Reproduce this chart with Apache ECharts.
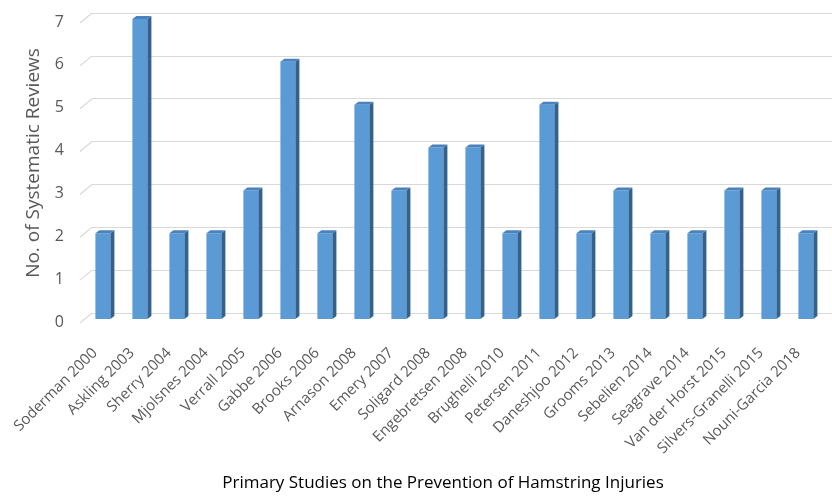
<!DOCTYPE html>
<html>
<head>
<meta charset="utf-8">
<script src="https://cdn.jsdelivr.net/npm/echarts@6/dist/echarts.min.js"></script>
<style>
  html, body { margin: 0; padding: 0; background: #fff; }
  #chart { width: 832px; height: 496px; }
</style>
</head>
<body>
<div id="chart"></div>
<script>
const studies = ['Soderman 2000', 'Askling 2003', 'Sherry 2004', 'Mjolsnes 2004', 'Verrall 2005',
  'Gabbe 2006', 'Brooks 2006', 'Arnason 2008', 'Emery 2007', 'Soligard 2008', 'Engebretsen 2008',
  'Brughelli 2010', 'Petersen 2011', 'Daneshjoo 2012', 'Grooms 2013', 'Sebelien 2014',
  'Seagrave 2014', 'Van der Horst 2015', 'Silvers-Granelli 2015', 'Nouni-Garcia 2018']
const reviews = [2, 7, 2, 2, 3, 6, 2, 5, 3, 4, 4, 2, 5, 2, 3, 2, 2, 3, 3, 2]
const yTicks = [0, 1, 2, 3, 4, 5, 6, 7]

const FONT = '"Open Sans", sans-serif'
const front = '#5b9bd5' // 正面
const side = '#33628f'  // 侧面
const topFace = '#4a82bd' // 顶面

const chart = echarts.init(document.getElementById('chart'))

// 3D 柱子：正面 + 侧面 + 顶面
function renderBar(params, api) {
  const i = api.value(0)
  const v = api.value(1)
  const top = api.coord([i, v])
  const base = api.coord([i, 0])
  const fx = top[0] - 7.6
  const fy = 6
  const w = 15
  const dx = 4
  const dy = -3
  const x0 = fx - w / 2
  const x1 = fx + w / 2
  const yt = top[1] + fy
  const yb = base[1] + fy
  return {
    type: 'group',
    children: [
      { type: 'rect', shape: { x: x0, y: yt, width: w, height: yb - yt }, style: { fill: front } },
      { type: 'polygon', shape: { points: [[x1, yt], [x1 + dx, yt + dy], [x1 + dx, yb + dy], [x1, yb]] }, style: { fill: side } },
      { type: 'polygon', shape: { points: [[x0, yt], [x1, yt], [x1 + dx, yt + dy], [x0 + dx, yt + dy]] }, style: { fill: topFace } }
    ]
  }
}

// 网格线左侧的斜线（地板透视）
function renderDiag(params, api) {
  const v = api.value(0)
  const p = api.coord([0, v])
  const bw = api.size([1, 0])[0]
  const x = p[0] - bw / 2
  return {
    type: 'line',
    shape: { x1: x, y1: p[1], x2: x - 12, y2: p[1] + 10 },
    style: { stroke: '#d9d9d9', lineWidth: 1.2 }
  }
}

chart.setOption({
  backgroundColor: '#fff',
  animation: false,
  title: {
    text: 'Primary Studies on the Prevention of Hamstring Injuries',
    left: 438,
    textAlign: 'center',
    top: 470,
    textStyle: { fontFamily: FONT, fontSize: 17, fontWeight: 'normal', color: '#000' }
  },
  grid: { left: 92, top: 13, width: 752, height: 300 },
  xAxis: {
    type: 'category',
    data: studies,
    axisLine: { show: false },
    axisTick: { show: false },
    axisLabel: {
      interval: 0,
      rotate: 45,
      margin: 22,
      padding: [0, 22, 0, 0],
      fontFamily: FONT,
      fontSize: 15,
      color: '#595959'
    }
  },
  yAxis: {
    type: 'value',
    min: 0,
    max: 7,
    interval: 1,
    name: 'No. of Systematic Reviews',
    nameLocation: 'middle',
    nameRotate: 90,
    nameGap: 49,
    nameTextStyle: { fontFamily: FONT, fontSize: 19, color: '#595959' },
    axisLine: { show: false },
    axisTick: { show: false },
    splitLine: { lineStyle: { color: '#d9d9d9', width: 1.2 } },
    axisLabel: {
      margin: 28,
      verticalAlign: 'top',
      padding: [1, 0, 0, 0],
      fontFamily: FONT,
      fontSize: 16,
      color: '#595959'
    }
  },
  series: [
    {
      type: 'custom',
      renderItem: renderDiag,
      data: yTicks.map(t => [t]),
      encode: { y: 0 },
      silent: true
    },
    {
      type: 'custom',
      renderItem: renderBar,
      data: reviews.map((v, i) => [i, v]),
      encode: { x: 0, y: 1 }
    }
  ]
})
</script>
</body>
</html>
